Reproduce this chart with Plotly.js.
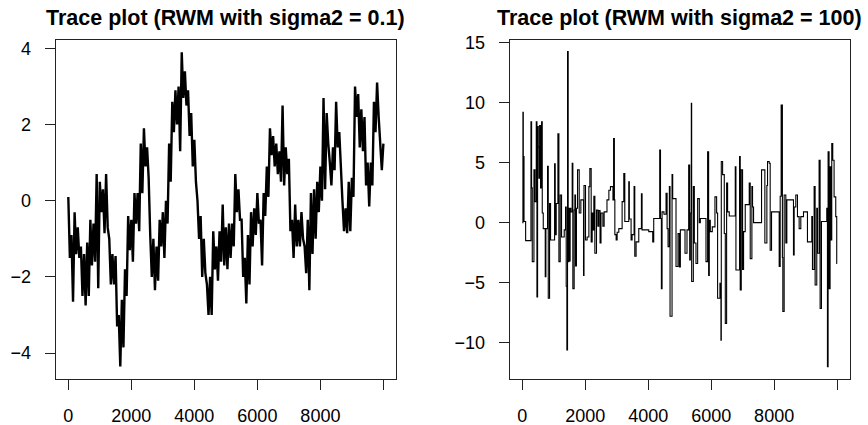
<!DOCTYPE html>
<html>
<head>
<meta charset="utf-8">
<script src="https://cdn.plot.ly/plotly-3.0.1.min.js"></script>
<style>html,body{margin:0;padding:0;background:#fff;}#chart{width:868px;height:425px;}</style>
</head>
<body>
<div id="chart"></div>
<script>
// ---- Data ----
// Left: RWM chain with sigma2 = 0.1. The dense trace is read as a band:
// for every 100-iteration window, the highest value (at the window start)
// and the lowest value (half-way through the window).
const windowSize = 100;
const bandHigh = [
  0.1,-0.9,-0.3,-0.7,-1.2,-1.4,-1.1,-0.5,-0.6,0.7,
  0.5,0.3,0.7,-1.0,-1.4,-1.45,-3.0,-2.6,-1.8,-0.4,
  -0.5,0.2,0.2,1.5,1.9,1.4,-0.9,-1.0,-1.2,-0.5,
  -0.3,0.0,1.5,2.6,2.9,3.0,3.9,3.4,2.9,2.3,
  1.6,0.0,-0.4,-1.0,-2.2,-2.0,-0.8,-1.2,-0.8,-0.1,
  -0.7,-0.6,-0.6,0.7,0.3,-0.5,-1.5,-0.9,-0.3,-0.2,
  0.2,-0.5,0.2,0.9,1.9,1.7,1.5,1.3,2.5,1.4,
  1.1,-0.5,-0.1,-0.5,-0.3,-1.2,-0.5,0.2,0.3,0.5,
  0.9,2.7,2.3,1.0,1.4,2.6,1.8,0.0,-0.2,0.5,
  0.6,3.0,2.8,2.4,2.2,1.0,1.0,2.6,3.1,1.5
];
const bandLow = [
  -1.5,-2.65,-1.4,-1.5,-2.5,-2.75,-2.5,-1.7,-1.6,-2.3,
  -0.3,-0.85,-0.7,-2.2,-2.2,-3.3,-4.35,-3.85,-2.5,-1.3,
  -1.6,-0.6,-0.8,0.2,0.9,0.6,-2.0,-2.35,-2.1,-1.2,
  -1.5,-0.6,0.5,1.8,2.0,1.3,2.7,2.5,1.7,0.9,
  0.5,-1.0,-2.0,-1.9,-3.0,-3.0,-1.8,-2.1,-1.6,-1.7,
  -1.8,-1.5,-1.2,-0.3,-0.5,-2.0,-2.7,-2.2,-1.2,-0.9,
  -0.6,-1.7,-0.4,0.1,1.2,0.9,0.7,0.5,0.4,0.7,
  -0.8,-1.5,-1.2,-1.2,-1.0,-1.9,-2.35,-1.4,-1.0,-0.3,
  0.0,0.3,1.5,0.4,0.8,1.4,0.9,-0.8,-0.85,-0.8,
  0.1,2.2,1.4,1.3,0.4,-0.15,0.4,1.8,2.2,0.8
];
const lastIter = 10000;
const lastValue = 1.5;

// Right: RWM chain with sigma2 = 100 (piecewise constant): iteration of each accepted move and new value
const jumpIter = [
  0,20,32,42,55,106,275,296,317,370,402,444,465,486,507,528,550,581,613,634,
  666,729,750,803,825,866,898,1026,1046,1078,1131,1163,1205,1247,1332,1374,1395,1416,1437,1458,
  1480,1500,1520,1543,1585,1606,1648,1670,1691,1720,1755,1808,1860,1945,1960,2008,2060,2115,2146,2188,
  2220,2252,2273,2305,2357,2400,2430,2470,2500,2560,2600,2690,2750,2800,2880,2900,2925,2940,2981,3013,
  3066,3171,3224,3256,3382,3400,3456,3488,3551,3573,3615,3700,3784,3805,4017,4143,4175,4365,4390,4418,
  4440,4500,4566,4600,4630,4672,4693,4757,4778,4883,4947,4989,5021,5169,5232,5285,5317,5338,5369,5380,
  5433,5465,5517,5570,5623,5655,5835,5887,5919,5940,5972,6035,6120,6173,6204,6278,6310,6321,6363,6416,
  6448,6490,6522,6574,6765,6786,6902,6923,6955,6997,7029,7082,7209,7240,7293,7314,7346,7600,7705,7769,
  7790,7843,7874,7917,8160,8192,8223,8236,8248,8262,8276,8318,8371,8403,8614,8636,8688,8741,8794,8847,
  8932,9058,9196,9217,9270,9302,9354,9375,9428,9460,9502,9671,9693,9714,9745,9777,9798,9830,9862,9904,
  9957,9988,10000
];
const jumpValue = [
  0.0,9.2,0.2,5.5,0.1,-1.5,8.4,2.9,-3.25,4.4,1.75,8.4,-6.2,8.0,6.3,3.7,8.1,2.9,8.4,0.8,
  -0.5,-4.5,-0.5,4.7,-6.3,1.6,-1.45,4.9,-1.0,1.6,7.4,-3.25,2.3,-1.2,-0.6,1.3,-5.3,-10.6,14.25,-3.25,
  1.2,-3.2,1.2,0.9,4.95,-5.5,1.05,2.3,-3.6,1.2,4.4,0.8,1.9,-4.4,3.1,-1.45,-1.2,3.0,4.5,-1.6,
  0.8,-0.6,2.2,-2.55,1.05,-0.3,1.0,-1.7,0.8,-0.3,0.9,1.9,2.7,3.0,1.9,7.0,1.9,-1.0,-1.45,-0.8,
  -0.5,1.75,4.1,0.1,3.4,0.3,-1.45,-1.0,3.0,-2.8,-1.6,-0.5,2.4,-0.6,-0.75,-1.6,0.35,6.05,0.35,-5.5,
  0.9,0.7,2.45,-0.5,-2.0,3.0,-7.8,4.0,2.0,-3.65,-0.9,-3.7,-0.6,-2.55,-0.6,4.8,-3.1,0.8,9.95,-4.9,
  3.0,-1.7,-3.4,2.0,0.0,0.35,-3.25,5.9,-4.4,0.2,-0.75,-0.35,2.15,0.8,-6.3,-5.05,-9.8,5.1,4.0,-0.9,
  -8.4,3.3,0.9,0.55,4.65,-3.95,5.5,-5.6,4.4,-3.9,-0.75,1.5,3.3,-3.0,3.0,1.3,0.0,4.4,-1.7,3.1,
  5.1,4.95,-2.3,0.9,-3.65,2.2,9.8,2.3,9.8,-2.9,-7.4,2.3,-1.7,1.9,-2.7,1.3,2.3,0.5,-0.5,0.5,
  0.9,-1.6,0.5,-3.9,3.0,-5.2,1.2,-2.55,5.2,-7.15,0.1,1.2,-12.0,5.9,-5.5,4.65,-1.45,6.6,5.2,2.15,
  0.5,-3.4,-3.4
];

const titleLeft = 'Trace plot (RWM with sigma2 = 0.1)';
const titleRight = 'Trace plot (RWM with sigma2 = 100)';
const xTickVals = [0,2000,4000,6000,8000,10000];
const xTickText = ['0','2000','4000','6000','8000',''];
const yTickValsLeft = [-4,-2,0,2,4];
const yTickTextLeft = ['\u22124','\u22122','0','2','4'];
const yTickValsRight = [-10,-5,0,5,10,15];
const yTickTextRight = ['\u221210','\u22125','0','5','10','15'];

// ---- Build: interleave window highs and lows into one trace ----
const iterSmall = [];
const chainSmall = [];
bandHigh.forEach((hi, k) => {
  iterSmall.push(k * windowSize);
  chainSmall.push(hi);
  iterSmall.push(k * windowSize + windowSize / 2);
  chainSmall.push(bandLow[k]);
});
iterSmall.push(lastIter);
chainSmall.push(lastValue);

const FONT = 'Liberation Sans, Arial, Helvetica, sans-serif';
const AX = '#222';

const traces = [
  {x: iterSmall, y: chainSmall, type: 'scatter', mode: 'lines',
   line: {color: '#000', width: 2.4, simplify: false}, xaxis: 'x', yaxis: 'y', hoverinfo: 'skip'},
  {x: jumpIter, y: jumpValue, type: 'scatter', mode: 'lines',
   line: {color: '#000', width: 1.1, shape: 'hv', simplify: false}, xaxis: 'x2', yaxis: 'y2', hoverinfo: 'skip'}
];

function xAxis(domain, anchor) {
  return {domain: domain, anchor: anchor, range: [-400, 10400],
    tickmode: 'array', tickvals: xTickVals, ticktext: xTickText,
    ticks: 'outside', ticklen: 10, tickwidth: 1, tickcolor: AX,
    showline: true, linecolor: AX, linewidth: 1, mirror: true,
    showgrid: false, zeroline: false, ticklabelstandoff: 10,
    tickfont: {family: FONT, size: 18, color: '#000'}};
}
function yAxis(domain, anchor, range, vals, text) {
  return {domain: domain, anchor: anchor, range: range,
    tickmode: 'array', tickvals: vals, ticktext: text,
    ticks: 'outside', ticklen: 10, tickwidth: 1, tickcolor: AX,
    showline: true, linecolor: AX, linewidth: 1, mirror: true,
    showgrid: false, zeroline: false, ticklabelstandoff: 10,
    tickfont: {family: FONT, size: 18, color: '#000'}};
}

const dx1 = [55.7/868, 396/868];
const dx2 = [509.7/868, 849.7/868];
const dy = [1 - 379/425, 1 - 40/425];

const layout = {
  width: 868, height: 425,
  margin: {l: 0, r: 0, t: 0, b: 0},
  paper_bgcolor: '#fff', plot_bgcolor: '#fff',
  showlegend: false,
  xaxis: xAxis(dx1, 'y'),
  yaxis: yAxis(dy, 'x', [-4.68, 4.22], yTickValsLeft, yTickTextLeft),
  xaxis2: xAxis(dx2, 'y2'),
  yaxis2: yAxis(dy, 'x2', [-13.03, 15.22], yTickValsRight, yTickTextRight),
  annotations: [
    {text: '<b>' + titleLeft + '</b>', xref: 'paper', yref: 'paper',
     x: (dx1[0] + dx1[1]) / 2, y: 1 - 17.7/425, xanchor: 'center', yanchor: 'middle',
     showarrow: false, font: {family: FONT, size: 21.5, color: '#000'}},
    {text: '<b>' + titleRight + '</b>', xref: 'paper', yref: 'paper',
     x: (dx2[0] + dx2[1]) / 2, y: 1 - 17.7/425, xanchor: 'center', yanchor: 'middle',
     showarrow: false, font: {family: FONT, size: 21.5, color: '#000'}}
  ]
};

Plotly.newPlot('chart', traces, layout, {staticPlot: true, displayModeBar: false});
</script>
</body>
</html>
